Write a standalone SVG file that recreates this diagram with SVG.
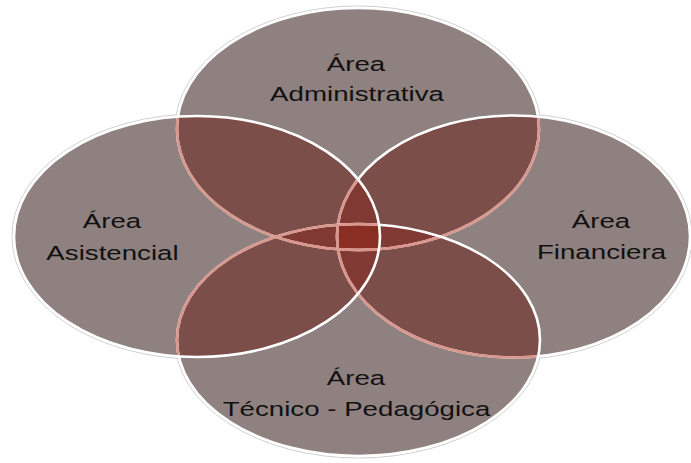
<svg xmlns="http://www.w3.org/2000/svg" width="691" height="463" viewBox="0 0 691 463">
<style>
.base{fill:#8f817f;}
.pair{fill:#7c4e49;}
.tri{fill:#803a33;}
.quad{fill:#8a2e24;}
.halo{fill:none;stroke:#cfcfcf;stroke-width:1;}
.ws{fill:none;stroke:#ffffff;stroke-width:2.6;}
.ps{fill:none;stroke:#d8968c;stroke-width:2.6;}
.lbl{font-family:"Liberation Sans",Arial,sans-serif;font-size:19.5px;fill:#111111;text-anchor:middle;}
</style>
<defs>
<clipPath id="cT"><ellipse cx="358" cy="129" rx="181" ry="121"/></clipPath>
<clipPath id="cL"><ellipse cx="197" cy="236.5" rx="183" ry="120.5"/></clipPath>
<clipPath id="cR"><ellipse cx="513.5" cy="236.5" rx="176.5" ry="121"/></clipPath>
<clipPath id="cB"><ellipse cx="358.5" cy="340" rx="181.5" ry="116"/></clipPath>
</defs>
<g id="halos">
<ellipse class="halo" cx="358" cy="129" rx="183" ry="123"/>
<ellipse class="halo" cx="197" cy="236.5" rx="185" ry="122.5"/>
<ellipse class="halo" cx="513.5" cy="236.5" rx="178.5" ry="123"/>
<ellipse class="halo" cx="358.5" cy="340" rx="183.5" ry="118"/>
</g>
<g id="node-administrativa">
<ellipse class="base" cx="358" cy="129" rx="181" ry="121"/>
<text class="lbl" transform="translate(356,71) scale(1.42,1)">Área</text>
<text class="lbl" transform="translate(357,101) scale(1.42,1)">Administrativa</text>
</g>
<g id="node-asistencial">
<ellipse class="base" cx="197" cy="236.5" rx="183" ry="120.5"/>
<text class="lbl" transform="translate(112,228) scale(1.42,1)">Área</text>
<text class="lbl" transform="translate(112.5,260) scale(1.42,1)">Asistencial</text>
</g>
<g id="node-financiera">
<ellipse class="base" cx="513.5" cy="236.5" rx="176.5" ry="121"/>
<text class="lbl" transform="translate(601,228) scale(1.42,1)">Área</text>
<text class="lbl" transform="translate(601.5,259) scale(1.42,1)">Financiera</text>
</g>
<g id="node-tecnico">
<ellipse class="base" cx="358.5" cy="340" rx="181.5" ry="116"/>
<text class="lbl" transform="translate(356,385) scale(1.42,1)">Área</text>
<text class="lbl" transform="translate(356.5,416) scale(1.42,1)">Técnico - Pedagógica</text>
</g>
<g id="overlaps">
<g clip-path="url(#cT)">
<ellipse class="pair" cx="197" cy="236.5" rx="183" ry="120.5"/>
<ellipse class="pair" cx="513.5" cy="236.5" rx="176.5" ry="121"/>
<ellipse class="pair" cx="358.5" cy="340" rx="181.5" ry="116"/>
</g>
<g clip-path="url(#cB)">
<ellipse class="pair" cx="197" cy="236.5" rx="183" ry="120.5"/>
<ellipse class="pair" cx="513.5" cy="236.5" rx="176.5" ry="121"/>
</g>
<g clip-path="url(#cL)">
<ellipse class="pair" cx="513.5" cy="236.5" rx="176.5" ry="121"/>
</g>
<g clip-path="url(#cT)">
<g clip-path="url(#cL)">
<ellipse class="tri" cx="513.5" cy="236.5" rx="176.5" ry="121"/>
<ellipse class="tri" cx="358.5" cy="340" rx="181.5" ry="116"/>
</g>
<g clip-path="url(#cR)">
<ellipse class="tri" cx="358.5" cy="340" rx="181.5" ry="116"/>
</g>
</g>
<g clip-path="url(#cL)">
<g clip-path="url(#cR)">
<ellipse class="tri" cx="358.5" cy="340" rx="181.5" ry="116"/>
</g>
</g>
<g clip-path="url(#cT)">
<g clip-path="url(#cL)">
<g clip-path="url(#cR)">
<ellipse class="quad" cx="358.5" cy="340" rx="181.5" ry="116"/>
</g>
</g>
</g>
</g>
<g id="outlines">
<ellipse class="ws" cx="358" cy="129" rx="181" ry="121"/>
<ellipse class="ps" clip-path="url(#cL)" cx="358" cy="129" rx="181" ry="121"/>
<ellipse class="ps" clip-path="url(#cR)" cx="358" cy="129" rx="181" ry="121"/>
<ellipse class="ps" clip-path="url(#cB)" cx="358" cy="129" rx="181" ry="121"/>
<ellipse class="ws" cx="513.5" cy="236.5" rx="176.5" ry="121"/>
<ellipse class="ps" clip-path="url(#cL)" cx="513.5" cy="236.5" rx="176.5" ry="121"/>
<ellipse class="ps" clip-path="url(#cB)" cx="513.5" cy="236.5" rx="176.5" ry="121"/>
<ellipse class="ws" cx="358.5" cy="340" rx="181.5" ry="116"/>
<ellipse class="ps" clip-path="url(#cL)" cx="358.5" cy="340" rx="181.5" ry="116"/>
<ellipse class="ws" cx="197" cy="236.5" rx="183" ry="120.5"/>
</g>
</svg>
